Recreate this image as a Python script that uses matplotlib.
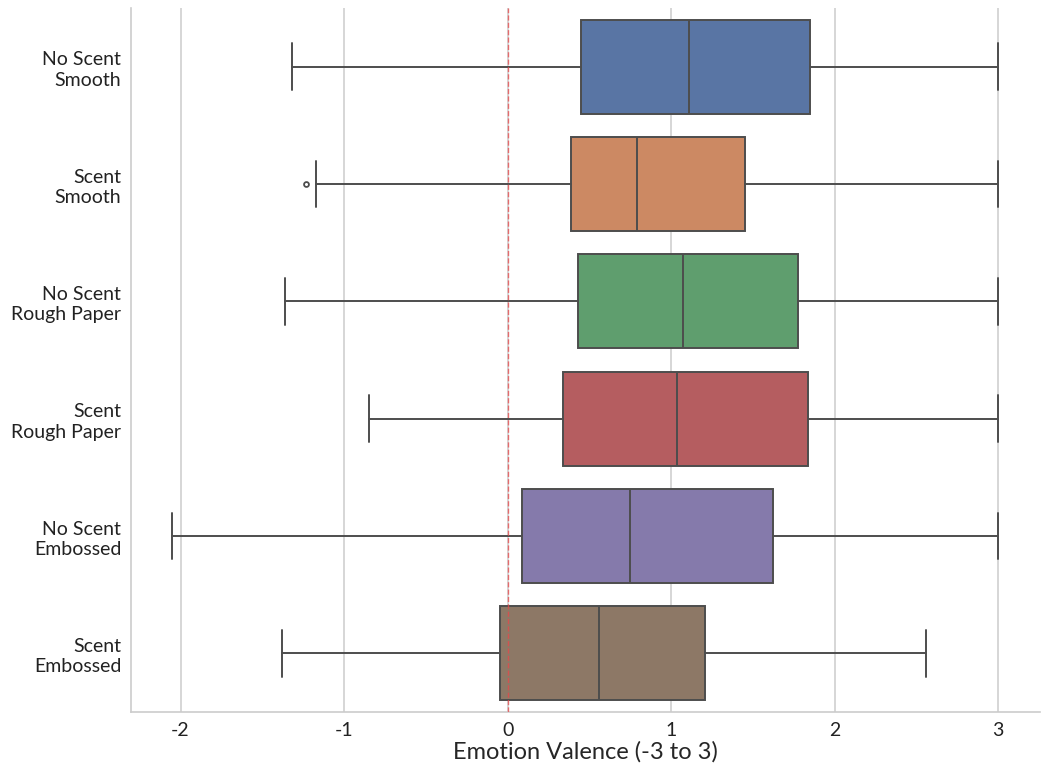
import matplotlib
matplotlib.use("Agg")
import matplotlib.pyplot as plt
import seaborn as sns

# Condition labels (top to bottom)
conditions = [
    "No Scent\nSmooth",
    "Scent\nSmooth",
    "No Scent\nRough Paper",
    "Scent\nRough Paper",
    "No Scent\nEmbossed",
    "Scent\nEmbossed",
]

# Box-plot summary statistics for each condition
whisker_low = [-1.32, -1.17, -1.36, -0.85, -2.05, -1.38]
q1 = [0.45, 0.385, 0.433, 0.341, 0.091, -0.046]
median = [1.11, 0.79, 1.071, 1.036, 0.747, 0.558]
q3 = [1.849, 1.453, 1.774, 1.835, 1.623, 1.205]
whisker_high = [3.0, 3.0, 3.0, 3.0, 3.0, 2.56]
outliers = [[], [-1.23], [], [], [], []]

xticks = [-2, -1, 0, 1, 2, 3]

sns.set_style("whitegrid")
plt.rcParams["font.family"] = ["Lato", "DejaVu Sans"]

fig = plt.figure(figsize=(10.5, 7.69), dpi=100)
ax = fig.add_axes([0.1248, 0.0741, 0.8652, 0.9155])

palette = [sns.desaturate(c, 0.75) for c in sns.color_palette("deep", len(conditions))]

stats = []
for i in range(len(conditions)):
    stats.append(dict(
        whislo=whisker_low[i], q1=q1[i], med=median[i], q3=q3[i],
        whishi=whisker_high[i], fliers=outliers[i], label=conditions[i],
    ))

edge = "#4d4d4d"
positions = list(range(len(conditions)))
bp = ax.bxp(
    stats, positions=positions, vert=False, widths=0.8, patch_artist=True,
    showfliers=True,
    boxprops=dict(edgecolor=edge, linewidth=1.4),
    medianprops=dict(color=edge, linewidth=1.4),
    whiskerprops=dict(color=edge, linewidth=1.4),
    capprops=dict(color=edge, linewidth=1.4),
    flierprops=dict(marker="o", markersize=3.5, markerfacecolor="none",
                    markeredgecolor=edge, markeredgewidth=1.3),
    capwidths=0.4,
)
for patch, col in zip(bp["boxes"], palette):
    patch.set_facecolor(col)

# Neutral reference line
ax.axvline(0, color="#e8474a", linestyle="--", linewidth=1.0, alpha=0.75, zorder=4)

ax.set_ylim(len(conditions) - 0.5, -0.5)
ax.set_yticks(positions)
ax.set_yticklabels(conditions, fontsize=14, linespacing=1.25)
ax.set_xticks(xticks)
ax.set_xticklabels([str(t) for t in xticks], fontsize=14)
ax.set_xlabel("Emotion Valence (-3 to 3)", fontsize=17, labelpad=2)

ax.grid(axis="x", color="#d0d0d0", linewidth=1.2)
ax.grid(axis="y", visible=False)
ax.set_axisbelow(True)
for side in ("top", "right"):
    ax.spines[side].set_visible(False)
for side in ("left", "bottom"):
    ax.spines[side].set_color("#cccccc")
    ax.spines[side].set_linewidth(1.2)
ax.tick_params(axis="y", length=0, pad=7, colors="#222222")
ax.tick_params(axis="x", length=0, pad=7, colors="#222222")

fig.savefig("out.png", dpi=100)
